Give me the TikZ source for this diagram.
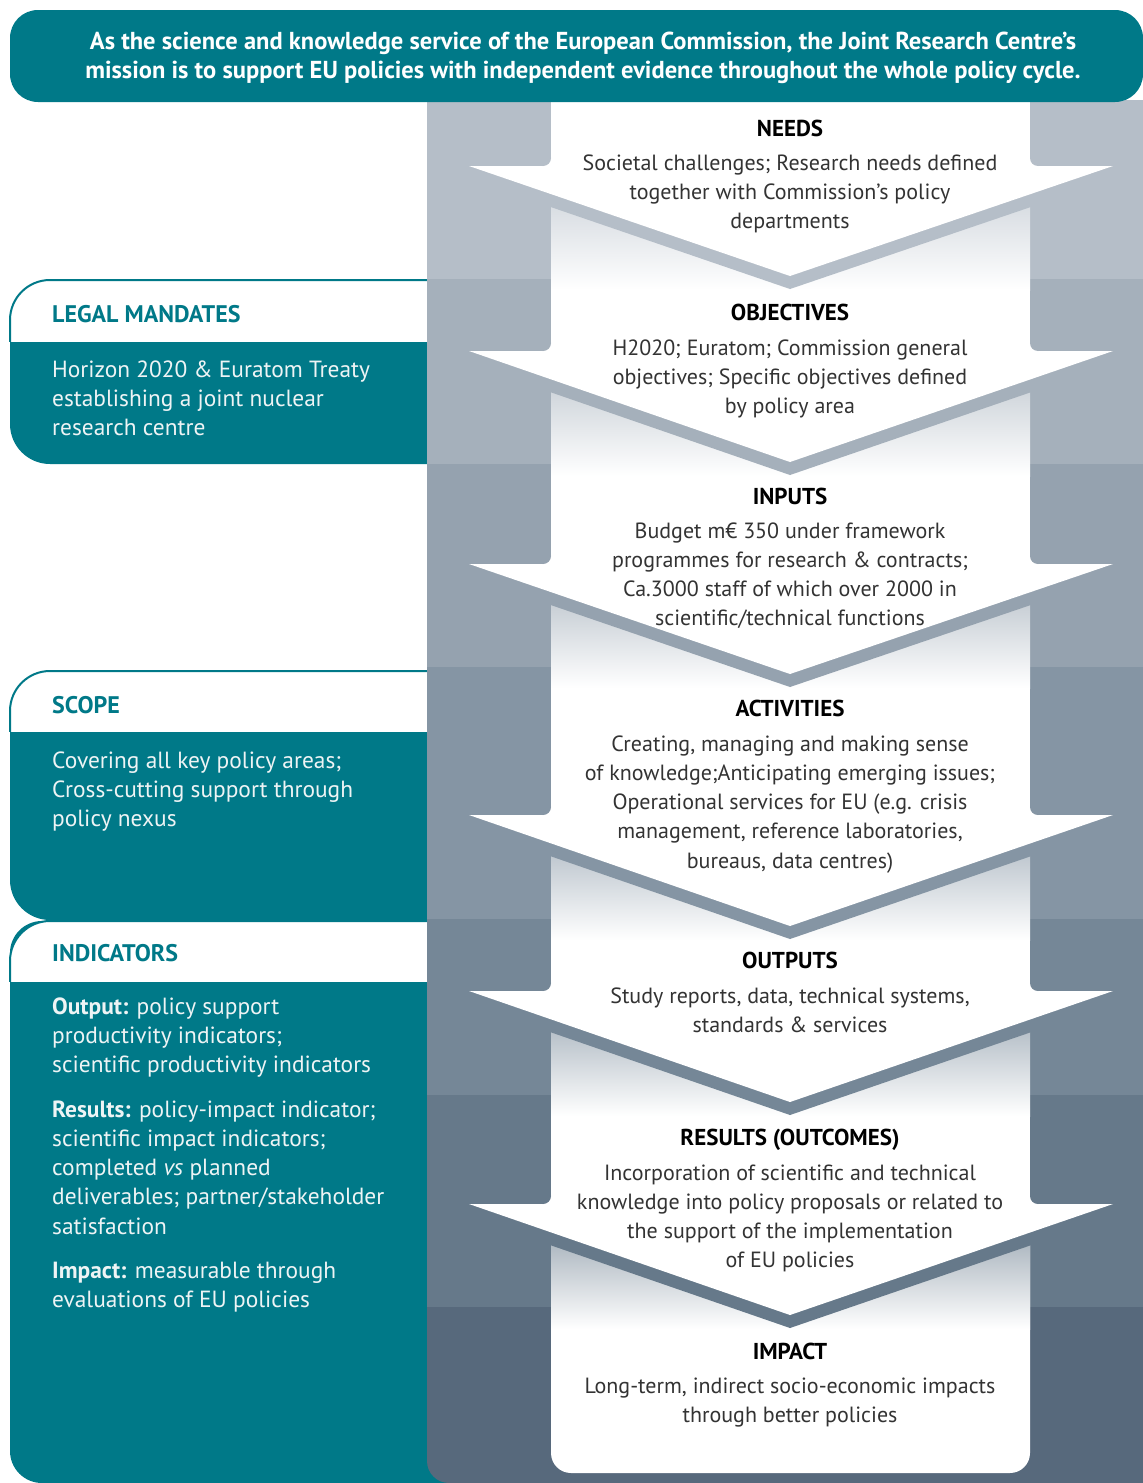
\documentclass[tikz,border=0pt]{standalone}
\usepackage{fontspec}
\setmainfont{PT Sans}
\definecolor{jrcteal}{RGB}{0,121,136}
\definecolor{b1}{HTML}{B5BEC8}
\definecolor{b2}{HTML}{A5B0BB}
\definecolor{b3}{HTML}{95A2AF}
\definecolor{b4}{HTML}{8595A4}
\definecolor{b5}{HTML}{758797}
\definecolor{b6}{HTML}{66798A}
\definecolor{b7}{HTML}{57697C}
\definecolor{txt}{HTML}{333333}
\definecolor{sidetxt}{HTML}{EEF4F5}
\begin{document}
\begin{tikzpicture}[x=1pt,y=-1pt,
  stagetitle/.style={font=\bfseries\fontsize{23}{26}\selectfont, text=black, anchor=base, inner sep=0pt},
  stagebody/.style={font=\fontsize{22}{29.3}\selectfont, text=txt, align=center, anchor=base, inner sep=0pt},
  sidetitle/.style={font=\bfseries\fontsize{24}{27}\selectfont, text=jrcteal, anchor=base west, inner sep=0pt},
  sidebody/.style={font=\fontsize{23.4}{29.3}\selectfont, text=sidetxt, align=left, anchor=base west, inner sep=0pt},
  bannertext/.style={font=\bfseries\fontsize{24.5}{29.3}\selectfont, text=white, align=center, anchor=base, inner sep=0pt},
  headline/.style={fill=white, draw=jrcteal, line width=2pt, rounded corners=40pt},
]
\useasboundingbox (0,0) rectangle (1143,1483);

% ---------- left boxes ----------
\fill[jrcteal, rounded corners=40pt] (10,280) rectangle (540,464);
\begin{scope}
  \clip (0,270) rectangle (427,341);
  \path[headline] (10,280) rectangle (600,464);
\end{scope}

\fill[jrcteal, rounded corners=40pt] (10,671) rectangle (540,920);
\begin{scope}
  \clip (0,660) rectangle (427,731);
  \path[headline] (10,671) rectangle (600,920);
\end{scope}

\fill[jrcteal, rounded corners=32pt] (10,921) rectangle (540,1483);
\begin{scope}
  \clip (0,910) rectangle (427,981);
  \path[headline] (10,921) rectangle (600,1483);
\end{scope}

% ---------- grey column ----------
\begin{scope}
  \clip[rounded corners=22pt] (427,60) rectangle (1190,1483);
  \fill[b1] (427,100) rectangle (1143,279);
  \fill[b2] (427,279) rectangle (1143,464);
  \fill[b3] (427,464) rectangle (1143,667);
  \fill[b4] (427,667) rectangle (1143,919);
  \fill[b5] (427,919) rectangle (1143,1095);
  \fill[b6] (427,1095) rectangle (1143,1307);
  \fill[b7] (427,1307) rectangle (1143,1483);
\end{scope}

% white strips
\fill[white] (551,100) rectangle (1030,167);
\foreach \wa/\wb in {166/352, 351/565, 564/816, 815/992, 991/1205}
  \fill[white] (551,\wa) rectangle (1030,\wb);
\fill[white, rounded corners=20pt] (551,1204) rectangle (1030,1473);

% gradients under each arrow
\foreach \w/\t/\c in {166/276/b1, 351/462/b2, 564/674/b3, 815/926/b4, 991/1102/b5, 1204/1315/b6}{
  \fill[\c!55!white] (551,\w) rectangle (1030,\w+35);
  \shade[top color=\c!55!white, bottom color=white] (551,\w+35) rectangle (1030,\t+14);
}

% arrows with their shadow bands and fillets
\foreach \w/\t/\c in {166/276/b1, 351/462/b2, 564/674/b3, 815/926/b4, 991/1102/b5, 1204/1315/b6}{
  \fill[\c] (469,\w) -- (1113,\w) -- (1113,\w+13) -- (790,\t+13) -- (469,\w+13) -- cycle;
  \fill[white] (469,\w) -- (1113,\w) -- (790,\t) -- cycle;
  \fill[white] (543,\w-8) rectangle (551,\w+0.5);
  \fill[\c] (543,\w-8) circle (8pt);
  \fill[white] (1030,\w-8) rectangle (1038,\w+0.5);
  \fill[\c] (1038,\w-8) circle (8pt);
}

% ---------- banner ----------
\fill[jrcteal, rounded corners=28pt] (10,10) rectangle (1143,102);
\node[bannertext] (banner) at (583,78.3) {As the science and knowledge service of the European Commission, the Joint Research Centre’s\\mission is to support EU policies with independent evidence throughout the whole policy cycle.};

% ---------- stage texts (anchor = baseline of last line) ----------
\node[stagetitle] (needs) at (790,136) {NEEDS};
\node[stagebody] (needsb) at (790,228.6) {Societal challenges; Research needs defined\\together with Commission’s policy\\departments};

\node[stagetitle] (obj) at (790,320) {OBJECTIVES};
\node[stagebody] (objb) at (790,413.6) {H2020; Euratom; Commission general\\objectives; Specific objectives defined\\by policy area};

\node[stagetitle] (inp) at (790,504) {INPUTS};
\node[stagebody] (inpb) at (790,625.9) {Budget m€ 350 under framework\\programmes for research \& contracts;\\Ca.3000 staff of which over 2000 in\\scientific/technical functions};

\node[stagetitle] (act) at (790,716) {ACTIVITIES};
\node[stagebody] (actb) at (790,868.2) {Creating, managing and making sense\\of knowledge;Anticipating emerging issues;\\Operational services for EU (e.g. crisis\\management, reference laboratories,\\bureaus, data centres)};

\node[stagetitle] (outp) at (790,968) {OUTPUTS};
\node[stagebody] (outpb) at (790,1032.3) {Study reports, data, technical systems,\\standards \& services};

\node[stagetitle] (res) at (790,1145) {RESULTS (OUTCOMES)};
\node[stagebody] (resb) at (790,1267.9) {Incorporation of scientific and technical\\knowledge into policy proposals or related to\\the support of the implementation\\of EU policies};

\node[stagetitle] (imp) at (790,1359) {IMPACT};
\node[stagebody] (impb) at (790,1422.3) {Long-term, indirect socio-economic impacts\\through better policies};

% ---------- side texts ----------
\node[sidetitle] (legal) at (52,322) {LEGAL MANDATES};
\node[sidebody] (legalb) at (52,435.6) {Horizon 2020 \& Euratom Treaty\\establishing a joint nuclear\\research centre};

\node[sidetitle] (scope) at (52,713) {SCOPE};
\node[sidebody] (scopeb) at (52,826.6) {Covering all key policy areas;\\Cross-cutting support through\\policy nexus};

\node[sidetitle] (ind) at (52,961) {INDICATORS};
\node[sidebody] (indo) at (52,1072.6) {\textbf{Output:} policy support\\productivity indicators;\\scientific productivity indicators};
\node[sidebody] (indr) at (52,1234.2) {\textbf{Results:} policy-impact indicator;\\scientific impact indicators;\\completed \textit{vs} planned\\deliverables; partner/stakeholder\\satisfaction};
\node[sidebody] (indi) at (52,1307.3) {\textbf{Impact:} measurable through\\evaluations of EU policies};
\end{tikzpicture}
\end{document}
